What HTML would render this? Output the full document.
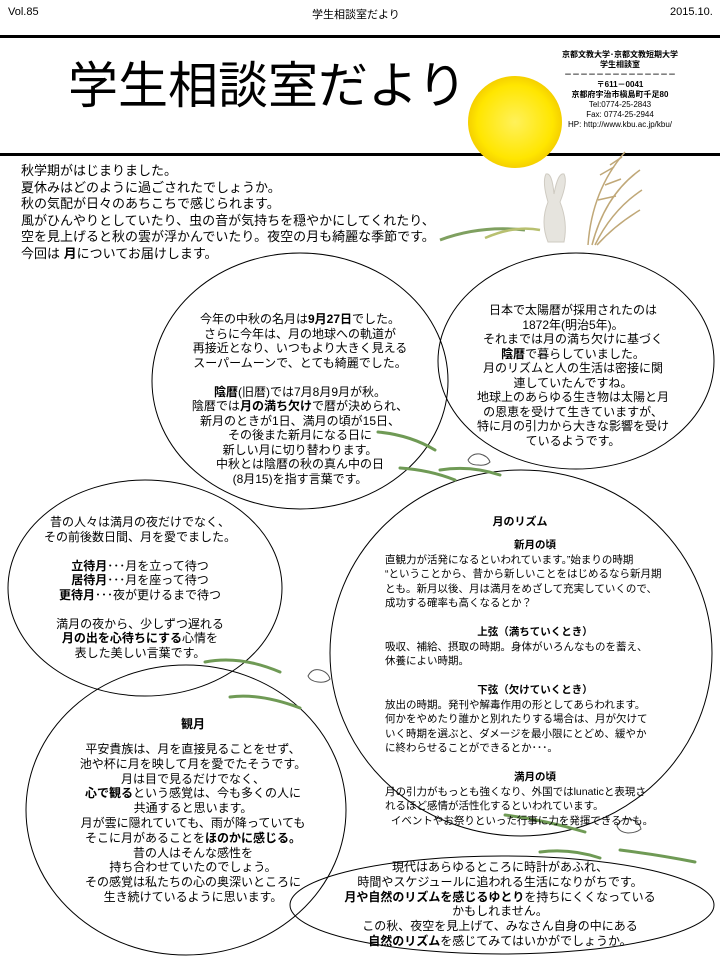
<!DOCTYPE html>
<html><head><meta charset="utf-8"><style>
body{margin:0;width:720px;height:960px;background:#fff;position:relative;overflow:hidden;font-family:"Liberation Sans","Noto Sans CJK JP",sans-serif;color:#000}
.a{position:absolute;white-space:nowrap}
.c{text-align:center}
.t{font-size:12px;line-height:14.5px}
b{font-weight:bold}
svg{position:absolute;left:0;top:0}
</style></head><body>
<svg width="720" height="960">
<rect x="0" y="35" width="720" height="3" fill="#000"/>
<rect x="0" y="153" width="720" height="3" fill="#000"/>
<defs><radialGradient id="m" cx="0.5" cy="0.5" r="0.5"><stop offset="0" stop-color="#fff15a"/><stop offset="0.8" stop-color="#ffe600"/><stop offset="1" stop-color="#f5d000"/></radialGradient></defs>
<ellipse cx="515" cy="122" rx="47" ry="46" fill="url(#m)"/>
<!-- pampas grass -->
<g stroke="#c0a878" stroke-width="1.5" fill="none">
<path d="M588 245 Q592 190 625 152"/><path d="M592 245 Q605 195 640 170"/><path d="M595 245 Q612 210 642 190"/><path d="M597 245 Q615 225 640 210"/>
<path d="M600 175 l14 -8 M605 185 l16 -6 M598 200 l18 -4 M610 165 l12 -8"/>
</g>
<path d="M548 242 q-8-20 0-40 q-6-20-2-28 q6-2 8 20 q4-22 10-20 q4 8-4 28 q8 20 4 40z" fill="#e6e4de" stroke="#cfcbc2"/>
<path d="M440 240 Q480 225 525 230" stroke="#7fa060" stroke-width="3" fill="none"/>
<path d="M485 238 Q515 225 540 230" stroke="#b8c070" stroke-width="2.5" fill="none"/>
<g fill="none" stroke="#000" stroke-width="1">
<ellipse cx="300" cy="381" rx="148" ry="128"/>
<ellipse cx="576" cy="361" rx="138" ry="108"/>
<ellipse cx="145" cy="588" rx="137" ry="108"/>
<ellipse cx="521" cy="653" rx="191" ry="183"/>
<ellipse cx="186" cy="810" rx="160" ry="145"/>
<ellipse cx="502" cy="905" rx="212" ry="49"/>
</g>
<g stroke="#6f9a55" stroke-width="3" fill="none" stroke-linecap="round">
<path d="M378 432 Q410 435 435 450"/><path d="M400 468 Q430 470 455 480"/>
<path d="M205 662 Q240 655 280 672"/><path d="M230 697 Q260 693 300 708"/>
<path d="M505 815 Q545 820 585 832"/><path d="M540 852 Q570 848 600 858"/><path d="M620 850 Q660 855 695 862"/>
<path d="M440 470 Q470 465 500 475"/>
</g>
<g stroke="#555" stroke-width="1" fill="#fff">
<path d="M468 460 q4-7 12-6 q8 2 10 8 q-4 4-12 3 q-8 0-10-5z"/>
<path d="M308 676 q4-8 12-6 q8 2 10 9 q-4 4-12 3 q-8-1-10-6z"/>
<path d="M617 826 q4-8 13-7 q9 2 11 10 q-5 4-13 4 q-9-1-11-7z"/>
</g>
</svg>
<div class="a" style="left:8px;top:6px;font-size:11px">Vol.85</div>
<div class="a" style="left:312px;top:6px;font-size:11px">学生相談室だより</div>
<div class="a" style="left:670px;top:6px;font-size:11px">2015.10.</div>
<div class="a" style="left:68px;top:56px;font-size:50px;line-height:60px">学生相談室だより</div>
<div class="a c" style="left:560px;top:50px;width:120px;font-size:8px;line-height:10px;font-weight:bold">京都文教大学･京都文教短期大学<br>学生相談室<br>－－－－－－－－－－－－－－<br>〒611－0041<br>京都府宇治市槇島町千足80</div>
<div class="a c" style="left:560px;top:100px;width:120px;font-size:8px;line-height:10px">Tel:0774-25-2843<br>Fax: 0774-25-2944<br>HP: http://www.kbu.ac.jp/kbu/</div>
<div class="a" style="left:21px;top:163px;font-size:13px;line-height:16.5px">秋学期がはじまりました。<br>夏休みはどのように過ごされたでしょうか。<br>秋の気配が日々のあちこちで感じられます。<br>風がひんやりとしていたり、虫の音が気持ちを穏やかにしてくれたり、<br>空を見上げると秋の雲が浮かんでいたり。夜空の月も綺麗な季節です。<br>今回は <b>月</b>についてお届けします。</div>
<div class="a c t" style="left:180px;top:312px;width:240px">今年の中秋の名月は<b>9月27日</b>でした。<br>さらに今年は、月の地球への軌道が<br>再接近となり、いつもより大きく見える<br>スーパームーンで、とても綺麗でした。<br><br><b>陰暦</b>(旧暦)では7月8月9月が秋。<br>陰暦では<b>月の満ち欠け</b>で暦が決められ、<br>新月のときが1日、満月の頃が15日、<br>その後また新月になる日に<br>新しい月に切り替わります。<br>中秋とは陰暦の秋の真ん中の日<br>(8月15)を指す言葉です。</div>
<div class="a c t" style="left:453px;top:303px;width:240px">日本で太陽暦が採用されたのは<br>1872年(明治5年)。<br>それまでは月の満ち欠けに基づく<br><b>陰暦</b>で暮らしていました。<br>月のリズムと人の生活は密接に関<br>連していたんですね。<br>地球上のあらゆる生き物は太陽と月<br>の恩恵を受けて生きていますが、<br>特に月の引力から大きな影響を受け<br>ているようです。</div>
<div class="a c t" style="left:20px;top:515px;width:240px">昔の人々は満月の夜だけでなく、<br>その前後数日間、月を愛でました。<br><br><b>立待月</b>･･･月を立って待つ<br><b>居待月</b>･･･月を座って待つ<br><b>更待月</b>･･･夜が更けるまで待つ<br><br>満月の夜から、少しずつ遅れる<br><b>月の出を心待ちにする</b>心情を<br>表した美しい言葉です。</div>
<div class="a c" style="left:420px;top:513px;width:200px;font-size:11px;font-weight:bold">月のリズム</div>
<div class="a" style="left:385px;top:538px;font-size:10.5px;line-height:14.5px"><div class="c" style="width:300px"><b>新月の頃</b></div>直観力が活発になるといわれています。”始まりの時期<br>“ということから、昔から新しいことをはじめるなら新月期<br>とも。新月以後、月は満月をめざして充実していくので、<br>成功する確率も高くなるとか？<br><br><div class="c" style="width:300px"><b>上弦（満ちていくとき）</b></div>吸収、補給、摂取の時期。身体がいろんなものを蓄え、<br>休養によい時期。<br><br><div class="c" style="width:300px"><b>下弦（欠けていくとき）</b></div>放出の時期。発刊や解毒作用の形としてあらわれます。<br>何かをやめたり誰かと別れたりする場合は、月が欠けて<br>いく時期を選ぶと、ダメージを最小限にとどめ、緩やか<br>に終わらせることができるとか･･･。<br><br><div class="c" style="width:300px"><b>満月の頃</b></div>月の引力がもっとも強くなり、外国ではlunaticと表現さ<br>れるほど感情が活性化するといわれています。<br>&nbsp;&nbsp;イベントやお祭りといった行事に力を発揮できるかも。</div>
<div class="a c" style="left:73px;top:715px;width:240px;font-size:12px;font-weight:bold">観月</div>
<div class="a c" style="left:53px;top:742px;width:280px;font-size:12px;line-height:14.8px">平安貴族は、月を直接見ることをせず、<br>池や杯に月を映して月を愛でたそうです。<br>月は目で見るだけでなく、<br><b>心で観る</b>という感覚は、今も多くの人に<br>共通すると思います。<br>月が雲に隠れていても、雨が降っていても<br>そこに月があることを<b>ほのかに感じる。</b><br>昔の人はそんな感性を<br>持ち合わせていたのでしょう。<br>その感覚は私たちの心の奥深いところに<br>生き続けているように思います。</div>
<div class="a c" style="left:340px;top:860px;width:320px;font-size:12px;line-height:14.8px">現代はあらゆるところに時計があふれ、<br>時間やスケジュールに追われる生活になりがちです。<br><b>月や自然のリズムを感じるゆとり</b>を持ちにくくなっている<br>かもしれません。<br>この秋、夜空を見上げて、みなさん自身の中にある<br><b>自然のリズム</b>を感じてみてはいかがでしょうか。</div>
</body></html>
